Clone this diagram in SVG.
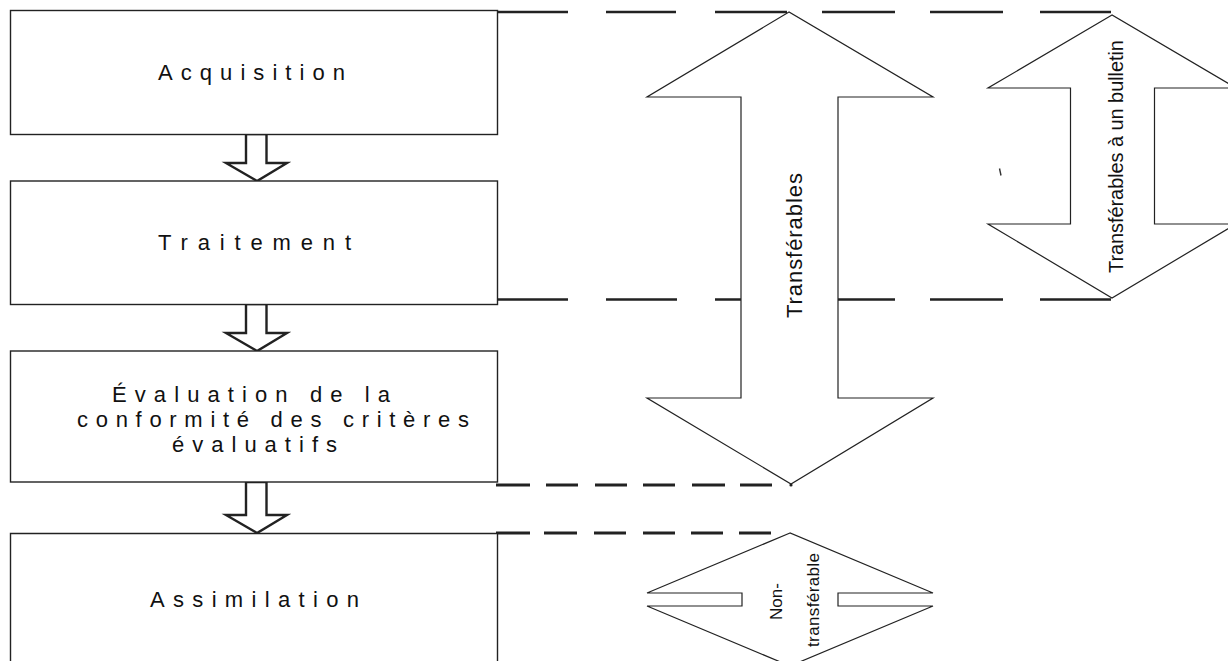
<svg xmlns="http://www.w3.org/2000/svg" width="1228" height="661" viewBox="0 0 1228 661">
<style>
.box{fill:#fff;stroke:#222;stroke-width:1.4}
.lbl{font-family:"Liberation Sans",Arial,sans-serif;font-size:22px;fill:#111}
.vl{font-family:"Liberation Sans",Arial,sans-serif;fill:#111}
.big{fill:#fff;stroke:#222;stroke-width:1.2;stroke-linejoin:miter}
.flow{fill:#fff;stroke:#222;stroke-width:2.4;stroke-linejoin:miter}
.dash{fill:none;stroke:#222;stroke-width:2.4}
.dash2{fill:none;stroke:#222;stroke-width:3}
</style>
<rect width="1228" height="661" fill="#fff"/>
<g id="connectors">
  <path class="dash" d="M497 12H568M606 12H676M715 12H787M822 12H895M930 12H1003M1040 12H1111"/>
  <path class="dash" d="M497 299.5H568M606 299.5H677M715 299.5H787M822 299.5H895M930 299.5H1003M1040 299.5H1111"/>
  <path class="dash2" d="M496 485H530M546 485H578M595 485H627M643 485H675M692 485H725M740 485H772"/>
  <circle cx="791" cy="485" r="1.6" fill="#222"/>
  <path class="dash2" d="M496 533H530M544 533H577M594 533H626M643 533H675M691 533H723M739 533H771"/>
  <path class="flow" d="M246 134V163H226L257 181L287 163H266.5V134Z"/>
  <path class="flow" d="M246 304V333H226L257 351L287 333H266.5V304Z"/>
  <path class="flow" d="M246 482V515H226L257 533L287 515H266.5V482Z"/>
</g>
<g id="acquisition">
  <rect class="box" x="10.5" y="10.5" width="487" height="124"/>
  <text class="lbl" x="158" y="80" textLength="187" lengthAdjust="spacing">Acquisition</text>
</g>
<g id="traitement">
  <rect class="box" x="10.5" y="181" width="487" height="123.5"/>
  <text class="lbl" x="158" y="250" textLength="193" lengthAdjust="spacing">Traitement</text>
</g>
<g id="evaluation">
  <rect class="box" x="10.5" y="351" width="487" height="131"/>
  <text class="lbl" x="112" y="402" textLength="278" lengthAdjust="spacing">Évaluation de la</text>
  <text class="lbl" x="77" y="427" textLength="392" lengthAdjust="spacing">conformité des critères</text>
  <text class="lbl" x="172" y="452" textLength="165" lengthAdjust="spacing">évaluatifs</text>
</g>
<g id="assimilation">
  <path class="box" d="M10.5 662V533.5H497.5V662"/>
  <text class="lbl" x="150" y="607" textLength="209" lengthAdjust="spacing">Assimilation</text>
</g>
<g id="transferables">
  <path class="big" d="M789 12L647 97H741V398H647L791 484L933 398H838V97H933Z"/>
  <text class="vl" font-size="22" transform="translate(802,318) rotate(-90)" textLength="145" lengthAdjust="spacing">Transférables</text>
</g>
<g id="transferables-bulletin">
  <path class="big" d="M1112 15L988 88H1070.5V224H988L1112 298L1236 224H1154.5V88H1236Z"/>
  <text class="vl" font-size="20" transform="translate(1123,273) rotate(-90)" textLength="233" lengthAdjust="spacing">Transférables à un bulletin</text>
</g>
<g id="non-transferable">
  <path class="big" d="M790 533L647 593H742V606H647L790 666L933 606H838V593H933Z"/>
  <text class="vl" font-size="17" text-anchor="middle" transform="translate(782,601.5) rotate(-90)">Non-</text>
  <text class="vl" font-size="17" text-anchor="middle" transform="translate(819,600) rotate(-90)" textLength="94" lengthAdjust="spacing">transférable</text>
</g>
<path d="M999.5 168.5L1001 175.5" stroke="#333" stroke-width="1.4" fill="none"/>
</svg>
